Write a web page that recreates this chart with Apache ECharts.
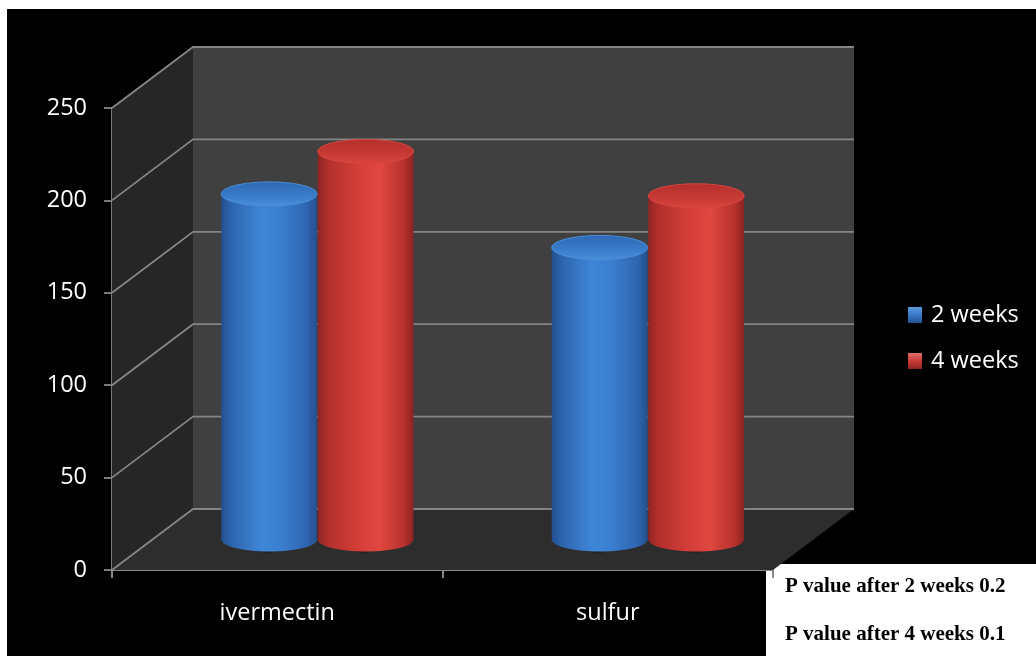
<!DOCTYPE html>
<html>
<head>
<meta charset="utf-8">
<script src="https://cdn.jsdelivr.net/npm/echarts@6/dist/echarts.min.js"></script>
<style>
  html, body { margin: 0; padding: 0; background: #ffffff; }
  #chart { position: absolute; left: 7px; top: 9px; width: 1029px; height: 647px; background: #000000; }
</style>
</head>
<body>
<div id="chart"></div>
<script>
// Data
const categories = ['ivermectin', 'sulfur'];
const seriesNames = ['2 weeks', '4 weeks'];
const weeks2 = [187, 158];
const weeks4 = [210, 186];
const yTicks = [0, 50, 100, 150, 200, 250];
const pValueNotes = ['P value after 2 weeks 0.2', 'P value after 4 weeks 0.1'];

// 3D look: depth offset of the back wall, cylinder layout inside a category band
const DEPTH_X = 81;
const DEPTH_Y = -61;
const BAR_FRACTION = 0.29;
const BAR_OFFSETS = [-0.147, 0.145];
const ELLIPSE_RY = 12;

const FONT = '"Open Sans", "Noto Sans", sans-serif';

function lin(x1, y1, x2, y2, stops) {
  return new echarts.graphic.LinearGradient(x1, y1, x2, y2,
    stops.map(s => ({ offset: s[0], color: s[1] })));
}

const palettes = [
  {
    body: () => lin(0, 0, 1, 0, [[0, '#234f8c'], [0.1, '#2d64ae'], [0.42, '#3f86d7'], [0.62, '#3b7fcf'], [0.9, '#2e65b0'], [1, '#244f8b']]),
    top: () => lin(0, 0, 0, 1, [[0, '#2f68b2'], [0.6, '#3a7dcc'], [1, '#4b8fda']]),
    rim: '#4a8fd8',
    legend: () => lin(0, 0, 0, 1, [[0, '#5c9be0'], [0.5, '#3a78c8'], [1, '#23508f']])
  },
  {
    body: () => lin(0, 0, 1, 0, [[0, '#8c2523'], [0.1, '#b2302c'], [0.45, '#d63f39'], [0.65, '#df4740'], [0.9, '#b8312d'], [1, '#8a2422']]),
    top: () => lin(0, 0, 0, 1, [[0, '#b3302c'], [0.6, '#c83a35'], [1, '#d9443d']]),
    rim: '#d84640',
    legend: () => lin(0, 0, 0, 1, [[0, '#e0706a'], [0.5, '#c83a35'], [1, '#8f2623']])
  }
];

// Walls, floor and gridlines of the 3D room
function renderRoom(params, api) {
  const cs = params.coordSys;
  const x0 = cs.x, x1 = cs.x + cs.width;
  const yBase = api.coord([0, yTicks[0]])[1];
  const yTop = api.coord([0, yTicks[yTicks.length - 1]])[1];
  const children = [
    { type: 'polygon', shape: { points: [[x0, yBase], [x0, yTop], [x0 + DEPTH_X, yTop + DEPTH_Y], [x0 + DEPTH_X, yBase + DEPTH_Y]] },
      style: { fill: '#262626' } },
    { type: 'rect', shape: { x: x0 + DEPTH_X, y: yTop + DEPTH_Y, width: cs.width, height: yBase - yTop },
      style: { fill: '#404040' } },
    { type: 'polygon', shape: { points: [[x0, yBase], [x1, yBase], [x1 + DEPTH_X, yBase + DEPTH_Y], [x0 + DEPTH_X, yBase + DEPTH_Y]] },
      style: { fill: '#2d2d2d' } }
  ];
  yTicks.forEach(v => {
    const y = api.coord([0, v])[1];
    children.push({
      type: 'polyline',
      shape: { points: [[x0, y], [x0 + DEPTH_X, y + DEPTH_Y], [x1 + DEPTH_X, y + DEPTH_Y]] },
      style: { stroke: '#858585', lineWidth: 1.8, fill: null }
    });
  });
  return { type: 'group', children: children };
}

// One cylinder per data item
function cylinderRenderer(idx) {
  const pal = palettes[idx];
  return function (params, api) {
    const cat = api.value(0);
    const val = api.value(1);
    const base = api.coord([cat, 0]);
    const top = api.coord([cat, val]);
    const band = api.size([1, 0])[0];
    const w = band * BAR_FRACTION;
    const rx = w / 2;
    const cx = base[0] + band * BAR_OFFSETS[idx] + DEPTH_X / 2;
    const by = base[1] + DEPTH_Y / 2;
    const ty = top[1] + DEPTH_Y / 2;
    const shadow = new echarts.graphic.RadialGradient(0.5, 0.5, 0.5, [
      { offset: 0, color: 'rgba(0,0,0,0.75)' },
      { offset: 0.75, color: 'rgba(0,0,0,0.55)' },
      { offset: 1, color: 'rgba(0,0,0,0)' }
    ]);
    return {
      type: 'group',
      children: [
        { type: 'ellipse', shape: { cx: cx - 2, cy: by - 3, rx: rx + 14, ry: ELLIPSE_RY + 6 },
          style: { fill: shadow } },
        { type: 'ellipse', shape: { cx: cx, cy: by, rx: rx, ry: ELLIPSE_RY },
          style: { fill: pal.body() } },
        { type: 'rect', shape: { x: cx - rx, y: ty, width: w, height: by - ty },
          style: { fill: pal.body() } },
        { type: 'ellipse', shape: { cx: cx, cy: ty, rx: rx, ry: ELLIPSE_RY },
          style: { fill: pal.top(), stroke: pal.rim, lineWidth: 1 } }
      ]
    };
  };
}

const chart = echarts.init(document.getElementById('chart'), null, { renderer: 'canvas' });

chart.setOption({
  backgroundColor: '#000000',
  animation: false,
  grid: { left: 105, right: 263, top: 99, bottom: 86 },
  legend: {
    data: seriesNames,
    orient: 'vertical',
    left: 896,
    top: 289,
    icon: 'rect',
    itemWidth: 14,
    itemHeight: 16,
    itemGap: 22,
    textStyle: { color: '#ffffff', fontSize: 23.5, fontFamily: FONT, padding: [0, 0, 0, 4] }
  },
  xAxis: {
    type: 'category',
    data: categories,
    boundaryGap: true,
    axisLine: { show: true, lineStyle: { color: '#888888', width: 2 } },
    axisTick: { show: true, length: 8, lineStyle: { color: '#888888', width: 2 } },
    axisLabel: { color: '#ffffff', fontSize: 23.5, fontFamily: FONT, margin: 31 },
    splitLine: { show: false }
  },
  yAxis: {
    type: 'value',
    min: yTicks[0],
    max: yTicks[yTicks.length - 1],
    interval: yTicks[1] - yTicks[0],
    axisLine: { show: true, lineStyle: { color: '#888888', width: 1.8 } },
    axisTick: { show: true, length: 8, lineStyle: { color: '#888888', width: 1.8 } },
    axisLabel: { color: '#ffffff', fontSize: 23.5, fontFamily: FONT, margin: 25 },
    splitLine: { show: false }
  },
  series: [
    {
      type: 'custom',
      name: 'room',
      silent: true,
      z: 1,
      renderItem: renderRoom,
      data: [[0, 0]]
    },
    {
      type: 'custom',
      name: seriesNames[0],
      z: 3,
      itemStyle: { color: palettes[0].legend() },
      encode: { x: 0, y: 1 },
      renderItem: cylinderRenderer(0),
      data: categories.map((c, i) => [i, weeks2[i]])
    },
    {
      type: 'custom',
      name: seriesNames[1],
      z: 4,
      itemStyle: { color: palettes[1].legend() },
      encode: { x: 0, y: 1 },
      renderItem: cylinderRenderer(1),
      data: categories.map((c, i) => [i, weeks4[i]])
    }
  ],
  graphic: [
    {
      type: 'group',
      left: 759,
      top: 555,
      children: [
        { type: 'rect', shape: { x: 0, y: 0, width: 270, height: 92 }, style: { fill: '#ffffff' } },
        { type: 'text', x: 19, y: 23, style: { text: pValueNotes[0], fill: '#000000', font: 'bold 21px "Liberation Serif", "DejaVu Serif", serif', verticalAlign: 'middle' } },
        { type: 'text', x: 19, y: 71, style: { text: pValueNotes[1], fill: '#000000', font: 'bold 21px "Liberation Serif", "DejaVu Serif", serif', verticalAlign: 'middle' } }
      ]
    }
  ]
});
</script>
</body>
</html>
